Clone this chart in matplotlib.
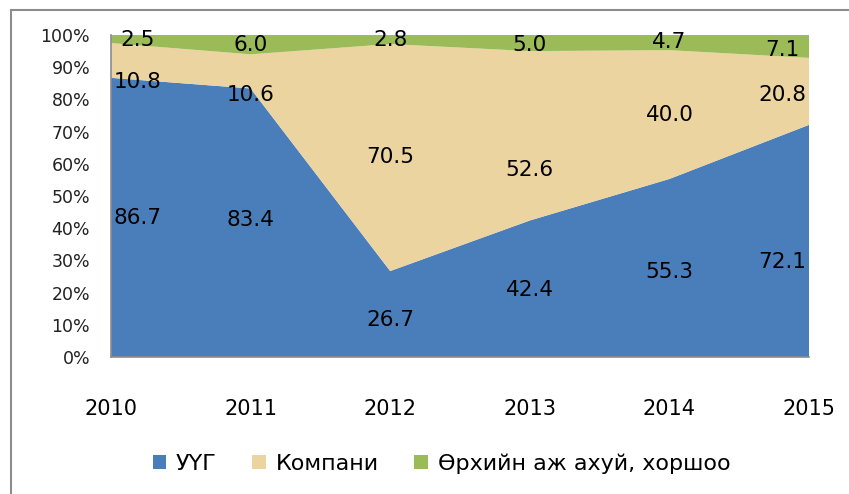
import matplotlib.pyplot as plt
from matplotlib.patches import Patch
from matplotlib.lines import Line2D

# Datos
anios = [2010, 2011, 2012, 2013, 2014, 2015]
uug = [86.7, 83.4, 26.7, 42.4, 55.3, 72.1]
kompani = [10.8, 10.6, 70.5, 52.6, 40.0, 20.8]
orh = [2.5, 6.0, 2.8, 5.0, 4.7, 7.1]
nombres = ['УҮГ', 'Компани', 'Өрхийн аж ахуй, хоршоо']
colores = ['#4A7EBB', '#EBD49F', '#9BBB59']

# posiciones de las etiquetas (en %), como en la imagen
y_lbl_uug = [43.2, 42.5, 11.5, 20.8, 26.4, 29.5]
y_lbl_komp = [85.4, 81.4, 62.1, 58.1, 75.2, 81.4]
y_lbl_orh = [98.4, 96.9, 98.4, 96.9, 97.8, 95.3]

fig = plt.figure(figsize=(8.49, 4.94), dpi=100)
ax = fig.add_axes([0.1307, 0.2773, 0.8222, 0.6518])

ax.stackplot(anios, uug, kompani, orh, colors=colores, linewidth=0)
ax.set_xlim(2010, 2015)
ax.set_ylim(0, 100)
ax.set_yticks(range(0, 101, 10))
ax.set_yticklabels([f'{v}%' for v in range(0, 101, 10)], fontsize=12.5, color='#222222')
ax.set_xticks(anios)
ax.set_xticklabels([str(a) for a in anios], fontsize=15)
ax.tick_params(axis='x', length=0, pad=30)
ax.tick_params(axis='y', length=0, pad=15)
for s in ['top', 'right']:
    ax.spines[s].set_visible(False)
for s in ['left', 'bottom']:
    ax.spines[s].set_color('#8c8c8c')
    ax.spines[s].set_linewidth(1.2)

def x_lbl(i):
    if i == 0:
        return anios[i] + 0.19
    if i == len(anios) - 1:
        return anios[i] - 0.19
    return anios[i]

for serie, ys in [(uug, y_lbl_uug), (kompani, y_lbl_komp), (orh, y_lbl_orh)]:
    for i, v in enumerate(serie):
        ax.text(x_lbl(i), ys[i], f'{v:.1f}', ha='center', va='center', fontsize=15.5)

handles = [Patch(facecolor=c, edgecolor='none') for c in colores]
fig.legend(handles, nombres, loc='center', bbox_to_anchor=(0.52, 0.061), ncol=3,
           frameon=False, fontsize=16, handlelength=0.6, handleheight=0.6,
           handletextpad=0.45, columnspacing=1.6)

# marco
fig.add_artist(Line2D([11/849, 11/849], [0, 1 - 10/494], transform=fig.transFigure,
                      color='#8c8c8c', lw=1.5))
fig.add_artist(Line2D([11/849, 1], [1 - 10/494, 1 - 10/494], transform=fig.transFigure,
                      color='#8c8c8c', lw=1.5))

fig.savefig('out.png', dpi=100)
